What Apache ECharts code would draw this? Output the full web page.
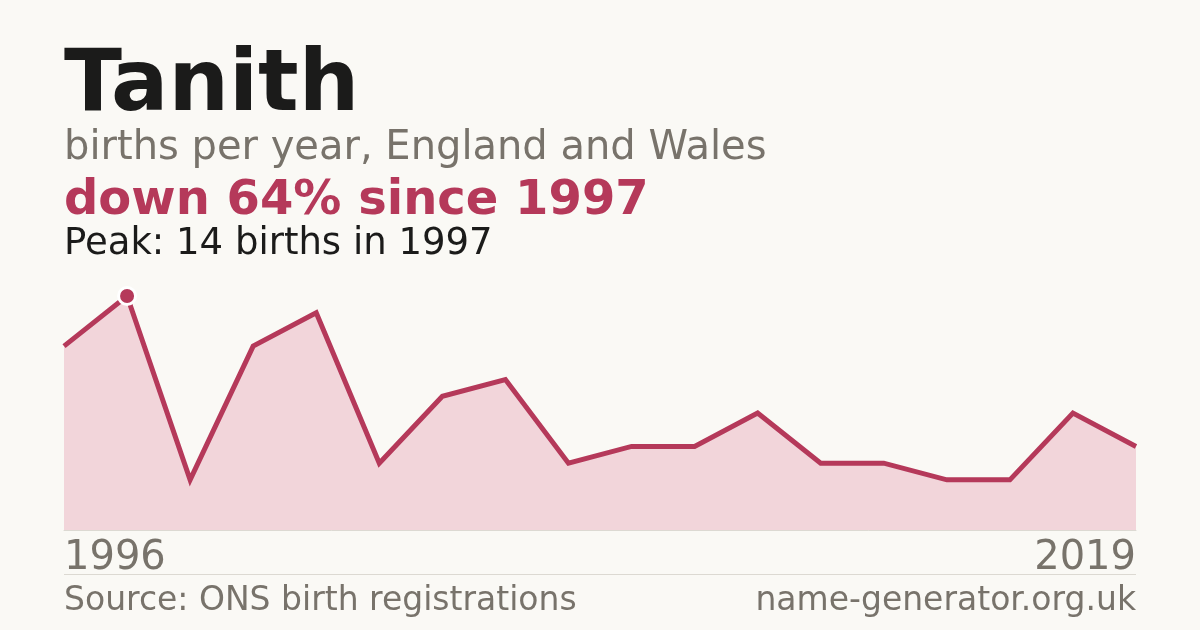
<!DOCTYPE html>
<html>
<head>
<meta charset="utf-8">
<title>Tanith</title>
<script src="https://cdn.jsdelivr.net/npm/echarts@6/dist/echarts.min.js"></script>
<style>
  html, body { margin: 0; padding: 0; background: #faf9f5; }
  #chart { width: 1200px; height: 630px; }
</style>
</head>
<body>
<div id="chart"></div>
<script>
// births per year (years with fewer than 3 births are not published)
const years = ['1996', '1997', '1998', '1999', '2000', '2001', '2002', '2003', '2005',
  '2006', '2007', '2009', '2010', '2011', '2013', '2015', '2018', '2019']
const births = [11, 14, 3, 11, 13, 4, 8, 9, 4, 5, 5, 7, 4, 4, 3, 3, 7, 5]

const RED = '#b5395a'
const GREY = '#78736b'
const FONT = '"DejaVu Sans", sans-serif'

const peak = Math.max(...births)
const peakIdx = births.indexOf(peak)

const chart = echarts.init(document.getElementById('chart'))

chart.setOption({
  backgroundColor: '#faf9f5',
  animation: false,
  grid: { left: 64, right: 64, top: 296, bottom: 100 },
  xAxis: {
    type: 'category',
    data: years,
    boundaryGap: false,
    axisLine: { show: true, lineStyle: { color: '#dcd9d2', width: 1 } },
    axisTick: { show: false },
    axisLabel: {
      // only first and last year
      interval: (i) => i === 0 || i === years.length - 1,
      color: GREY,
      fontFamily: FONT,
      fontSize: 40,
      margin: 9,
      alignMinLabel: 'left',
      alignMaxLabel: 'right'
    }
  },
  yAxis: {
    type: 'value',
    min: 0,
    max: peak,
    show: false,
    splitLine: { show: false }
  },
  series: [
    {
      type: 'line',
      data: births,
      showSymbol: false,
      lineStyle: { color: RED, width: 5, join: 'miter' },
      areaStyle: { color: '#f2d5da', opacity: 1 },
      z: 2
    },
    {
      type: 'scatter',
      data: [[peakIdx, peak]],
      symbol: 'circle',
      symbolSize: 17,
      itemStyle: { color: RED, opacity: 1, borderColor: '#ffffff', borderWidth: 3 },
      z: 3
    }
  ],
  graphic: [
    { type: 'text', left: 64, top: 45, style: { text: 'Tanith', fill: '#1b1b1a', font: 'bold 85px ' + FONT } },
    { type: 'text', left: 64, top: 129, style: { text: 'births per year, England and Wales', fill: GREY, font: '40px ' + FONT } },
    { type: 'text', left: 64, top: 178, style: { text: 'down 64% since 1997', fill: RED, font: 'bold 48px ' + FONT } },
    { type: 'text', left: 64, top: 226, style: { text: 'Peak: 14 births in 1997', fill: '#1b1b1a', font: '37px ' + FONT } },
    { type: 'line', shape: { x1: 64, y1: 574.5, x2: 1136, y2: 574.5 }, style: { stroke: '#dcd9d2', lineWidth: 1 } },
    { type: 'text', left: 64, top: 585, style: { text: 'Source: ONS birth registrations', fill: GREY, font: '33px ' + FONT } },
    { type: 'text', right: 64, top: 585, style: { text: 'name-generator.org.uk', fill: GREY, font: '33px ' + FONT } }
  ]
})
</script>
</body>
</html>
